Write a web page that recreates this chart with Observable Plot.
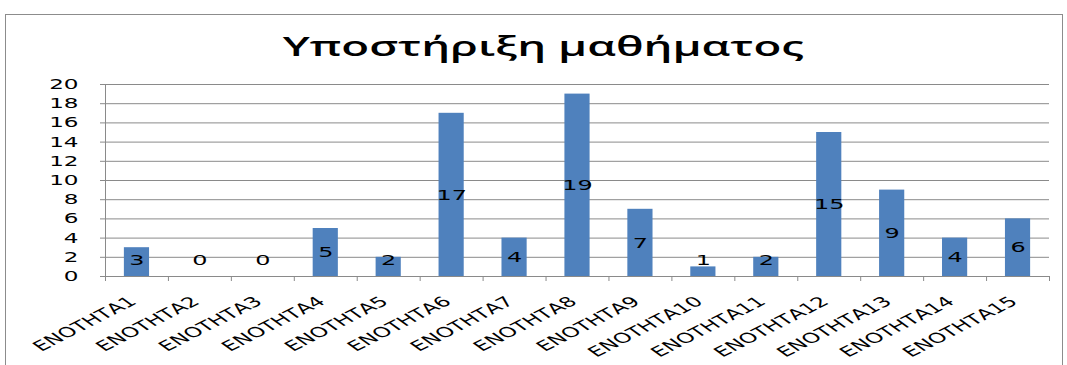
<!DOCTYPE html>
<html><head><meta charset="utf-8">
<script src="https://cdn.jsdelivr.net/npm/d3@7"></script>
<script src="https://cdn.jsdelivr.net/npm/@observablehq/plot@0.6"></script>
<style>
body{margin:0;background:#fff;width:1067px;height:365px;overflow:hidden;position:relative;font-family:"DejaVu Sans"}
#frame{position:absolute;left:5px;top:14px;width:1056px;height:400px;border:1.5px solid #8c8c8c;}
#title{position:absolute;left:0;width:1087px;top:27px;text-align:center;font:600 27px "Open Sans";color:#000;}
#title span{display:inline-block;transform:scaleX(1.69);transform-origin:50% 50%;}
#chart{position:absolute;left:0;top:70px}
</style></head><body>
<div id="frame"></div><div id="title"><span>Υποστήριξη μαθήματος</span></div><div id="chart"></div>
<script>
const categories = ["ΕΝΟΤΗΤΑ1","ΕΝΟΤΗΤΑ2","ΕΝΟΤΗΤΑ3","ΕΝΟΤΗΤΑ4","ΕΝΟΤΗΤΑ5","ΕΝΟΤΗΤΑ6","ΕΝΟΤΗΤΑ7","ΕΝΟΤΗΤΑ8","ΕΝΟΤΗΤΑ9","ΕΝΟΤΗΤΑ10","ΕΝΟΤΗΤΑ11","ΕΝΟΤΗΤΑ12","ΕΝΟΤΗΤΑ13","ΕΝΟΤΗΤΑ14","ΕΝΟΤΗΤΑ15"];
const values = [3,0,0,5,2,17,4,19,7,1,2,15,9,4,6];
const yTicks = [0,2,4,6,8,10,12,14,16,18,20];
const data = categories.map((c,i)=>({category:c,value:values[i]}));
const W = 1067, ML = 105, MR = 18;
const step = (W - ML - MR) / categories.length;
const grid = "#8a8a8a";
const SX = 1.65;
const plot = Plot.plot({
  width: W, height: 295, marginLeft: ML, marginRight: MR, marginTop: 14, marginBottom: 89,
  style: {fontFamily: "DejaVu Sans", fontSize: "14px", color: "#000", background: "transparent", overflow: "visible"},
  x: {domain: categories, paddingInner: 0.6, paddingOuter: 0.3, round: false, label: null},
  y: {domain: [0, 20], label: null},
  marks: [
    Plot.ruleY(yTicks, {stroke: grid, strokeWidth: 1, insetLeft: -5}),
    Plot.barY(data, {x: "category", y: "value", fill: "#4F81BD"}),
    Plot.frame({anchor: "left", stroke: grid}),
    Plot.axisY({ticks: yTicks, tickSize: 0, tickPadding: 27, fontSize: 14, label: null}),
    Plot.axisX({tickSize: 5, tickFormat: () => "", dx: -step/2, stroke: grid, label: null}),
    Plot.axisX({ticks: [categories[categories.length-1]], tickSize: 5, tickFormat: () => "", dx: step/2, stroke: grid, label: null}),
    Plot.axisX({tickSize: 0, tickRotate: -40, textAnchor: "end", fontSize: 14, tickPadding: 23, dx: -4, label: null}),
    Plot.text(data, {x: "category", y: d => Math.max(d.value/2, 1.7), text: d => String(d.value), fontSize: 14.5, fill: "#000"})
  ]
});
// horizontal stretch of all chart text, as in the reference
d3.select(plot).selectAll("text").each(function() {
  const t = d3.select(this);
  const tr = t.attr("transform");
  if (tr && /translate\([^)]*\)/.test(tr)) {
    t.attr("transform", tr.replace(/(translate\([^)]*\))/, `$1 scale(${SX},1)`));
  } else {
    const x = +(t.attr("x") || 0), y = +(t.attr("y") || 0);
    t.attr("x", null).attr("y", null).attr("transform", `translate(${x},${y}) scale(${SX},1)${tr ? " " + tr : ""}`);
  }
});
document.getElementById("chart").append(plot);
</script>
</body></html>
